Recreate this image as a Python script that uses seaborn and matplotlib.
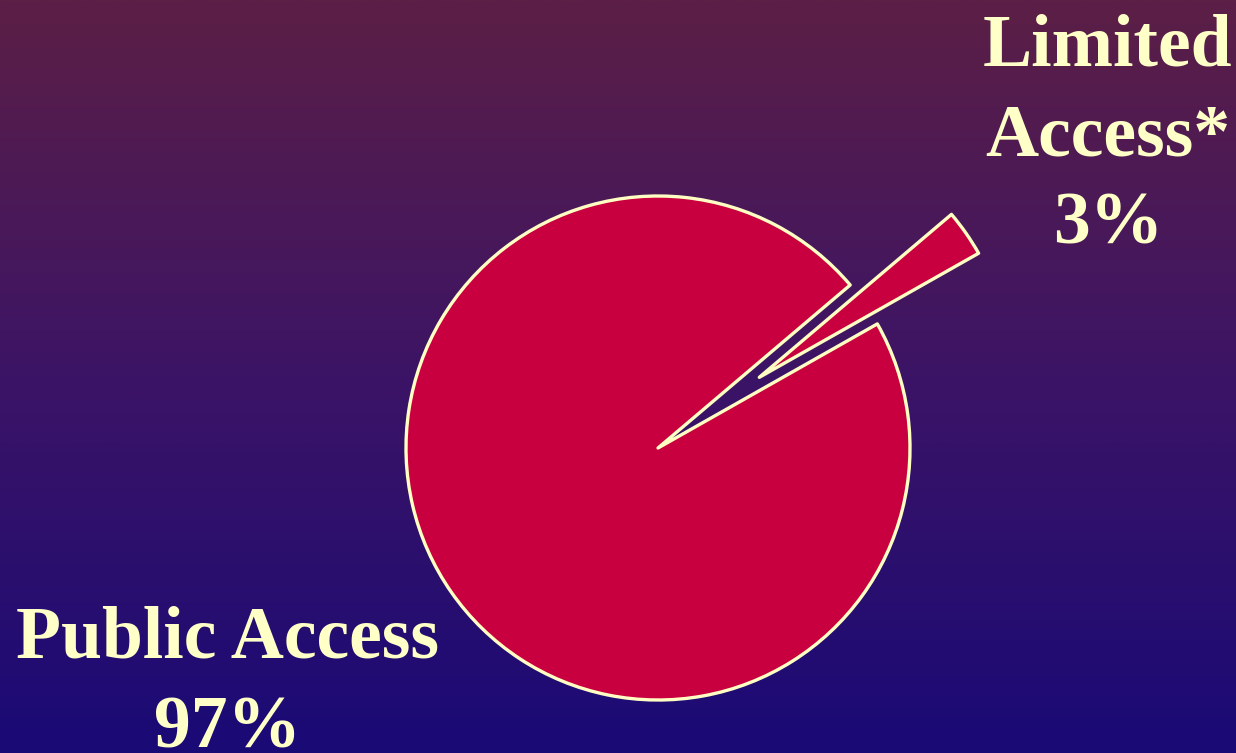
import numpy as np
import matplotlib
matplotlib.use("Agg")
import matplotlib.pyplot as plt
import seaborn as sns
from matplotlib.colors import LinearSegmentedColormap

# ---- data ----
labels = ["Limited Access*", "Public Access"]
label_lines = [["Limited", "Access*"], ["Public Access"]]
values = [3, 97]

sns.set_theme(style="white")
plt.rcParams['font.family'] = ['Liberation Serif', 'DejaVu Serif']

W, H = 1236, 753
fig = plt.figure(figsize=(W / 100, H / 100), dpi=100)
ax = fig.add_axes([0, 0, 1, 1])

# background gradient (top maroon-purple to bottom deep blue)
bg = LinearSegmentedColormap.from_list(
    "bg", [(0.0, (26/255, 10/255, 118/255)),
           (0.5, (60/255, 20/255, 102/255)),
           (1.0, (92/255, 31/255, 70/255))])
grad = np.linspace(0, 1, 512).reshape(-1, 1)
ax.imshow(grad, aspect="auto", cmap=bg, origin="lower",
          extent=(0, W, 0, H), zorder=0)

pie_color = "#c8003f"
edge = "#ffffc4"
cx, cy, r = 658, H - 448, 252
ax.pie(values, explode=[0.49 * r, 0], startangle=29.5, counterclock=True,
       colors=[pie_color, pie_color], center=(cx, cy), radius=r,
       wedgeprops=dict(edgecolor=edge, linewidth=2.4, joinstyle="round"),
       frame=True)

ax.set_xlim(0, W)
ax.set_ylim(0, H)
ax.set_aspect("equal")
ax.axis("off")

txt = dict(color="#ffffc8", fontsize=53, fontweight="bold",
           ha="center", va="baseline", zorder=5)
# Limited Access label
lim_lines = label_lines[0] + [f"{values[0]}%"]
for line, base in zip(lim_lines, [65, 155, 243]):
    ax.text(1108, H - base, line, **txt)
pub_lines = label_lines[1] + [f"{values[1]}%"]
for line, base in zip(pub_lines, [658, 747]):
    ax.text(227, H - base, line, **txt)

fig.savefig("out.png", dpi=100)
